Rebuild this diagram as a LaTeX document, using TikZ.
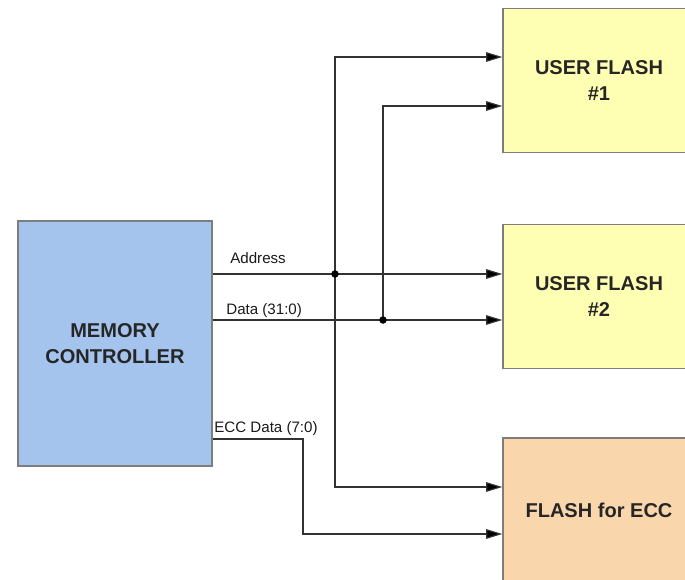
\documentclass[tikz,border=0pt]{standalone}
\usepackage{fontspec}
\setmainfont{Liberation Sans}
\usepackage{xcolor}
\usetikzlibrary{arrows.meta}

\definecolor{ctrlblue}{RGB}{164,196,238}
\definecolor{flashyellow}{RGB}{255,255,180}
\definecolor{flashpeach}{RGB}{250,214,172}
\definecolor{boxedge}{RGB}{125,125,125}
\definecolor{wire}{RGB}{50,50,50}

\tikzset{
  block/.style={draw=boxedge, line width=0.9pt, rectangle, align=center,
    font=\fontsize{11.4}{14.5}\selectfont\bfseries, text=black!85},
  bus/.style={draw=wire, line width=0.65pt},
  busarrow/.style={bus, -{Triangle[length=0.32cm, width=0.19cm, fill=black]}},
  buslabel/.style={font=\fontsize{8.6}{10}\selectfont, text=black!90, inner sep=0pt, anchor=base west}
}

\begin{document}
\begin{tikzpicture}
\useasboundingbox (0,0) rectangle (13.7,-11.6);

% Controller
\node[block, fill=ctrlblue, minimum width=3.88cm, minimum height=4.9cm] (mc) at (2.30,-6.87) {MEMORY\\CONTROLLER};

% Flash banks
\node[block, fill=flashyellow, minimum width=3.84cm, minimum height=2.88cm] (uf1) at (11.98,-1.61) {USER FLASH\\\#1};
\node[block, fill=flashyellow, minimum width=3.84cm, minimum height=2.88cm] (uf2) at (11.98,-5.93) {USER FLASH\\\#2};
\node[block, fill=flashpeach, minimum width=3.84cm, minimum height=2.88cm] (ecc) at (11.98,-10.20) {FLASH for ECC};

% Branch points
\coordinate (addrtap) at (6.70,-5.48);
\coordinate (datatap) at (7.66,-6.40);
\coordinate (eccbend) at (6.06,-8.78);

% Address bus
\draw[busarrow] (mc.east |- addrtap) -- (uf2.west |- addrtap);
\draw[busarrow] (addrtap) |- (uf1.west |- 0,-1.14);
\draw[busarrow] (addrtap) |- (ecc.west |- 0,-9.74);

% Data bus
\draw[busarrow] (mc.east |- datatap) -- (uf2.west |- datatap);
\draw[busarrow] (datatap) |- (uf1.west |- 0,-2.12);

% ECC data
\draw[busarrow] (mc.east |- eccbend) -- (eccbend) |- (ecc.west |- 0,-10.68);

% junction dots
\fill (addrtap) circle (0.075);
\fill (datatap) circle (0.075);

% Labels
\node[buslabel] (addrlbl) at (4.60,-5.26) {Address};
\node[buslabel] (datalbl) at (4.52,-6.28) {Data (31:0)};
\node[buslabel] (ecclbl) at (4.28,-8.64) {ECC Data (7:0)};
\end{tikzpicture}
\end{document}
